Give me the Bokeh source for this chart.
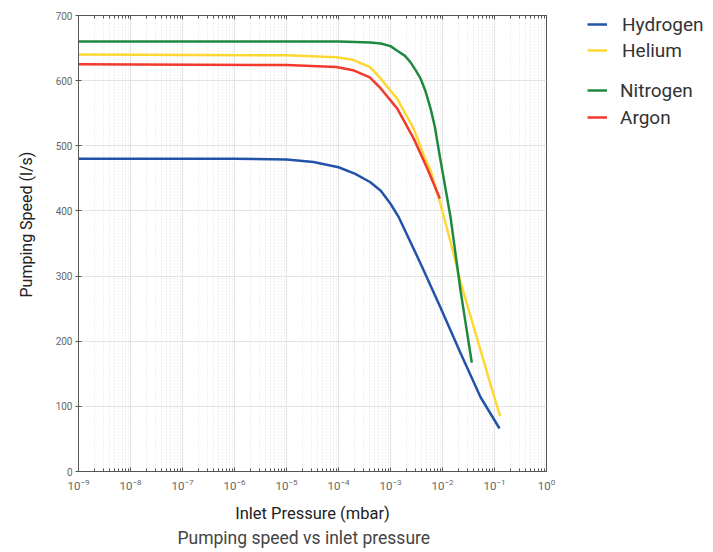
from bokeh.plotting import figure
from bokeh.models import LogAxis, Legend, LegendItem, FixedTicker, Title
from bokeh.layouts import row
from bokeh.embed import file_html
from bokeh.resources import INLINE

# Data (pressure in mbar, speed in l/s)
h2_p = [1e-9, 1e-6, 1e-5, 3.3e-5, 1e-4, 2.1e-4, 4.1e-4, 6.5e-4, 1e-3, 1.45e-3, 3.8e-3, 9.1e-3, 2.24e-2, 5.4e-2, 0.125]
h2_s = [480, 480, 479, 475, 467, 457, 444, 431, 411, 390, 319, 252, 181, 114, 66]

he_p = [1e-9, 1e-5, 9.1e-5, 1.9e-4, 4.0e-4, 6.5e-4, 1.35e-3, 2.8e-3, 4.4e-3, 5.9e-3, 9.1e-3, 1.4e-2, 2.24e-2, 3.5e-2, 5.4e-2, 8.3e-2, 0.128]
he_s = [640, 639, 636, 632, 621, 603, 572, 526, 485, 462, 411, 355, 290, 237, 186, 135, 85]

n2_p = [1e-9, 1e-4, 2.1e-4, 4.1e-4, 6.5e-4, 1e-3, 1.35e-3, 1.9e-3, 2.43e-3, 3.0e-3, 3.8e-3, 4.7e-3, 5.9e-3, 7.1e-3, 8.7e-3, 1.43e-2, 2.22e-2, 3.66e-2]
n2_s = [660, 660, 659.5, 658.5, 657, 653, 646, 638, 628, 617, 603, 584, 557, 530, 488, 390, 278, 167]

ar_p = [1e-9, 1e-5, 9.1e-5, 1.9e-4, 4.0e-4, 6.5e-4, 1.35e-3, 2.8e-3, 5.1e-3, 8.9e-3]
ar_s = [625, 624, 621, 616, 605, 588, 557, 511, 465, 419]

y_ticks = [0, 100, 200, 300, 400, 500, 600, 700]

names = ["Hydrogen", "Helium", "Nitrogen", "Argon"]
colors = ["#2353a8", "#fdd835", "#1f8a3f", "#f2392c"]
series = [(h2_p, h2_s), (he_p, he_s), (n2_p, n2_s), (ar_p, ar_s)]

FONT = "Roboto"

p = figure(width=560, height=552, x_axis_type="log", x_range=(1e-9, 1e0), y_range=(0, 700),
           output_backend="svg", toolbar_location=None,
           min_border_left=78, min_border_right=14, min_border_top=15, min_border_bottom=81)

p.outline_line_color = "#555555"
p.outline_line_width = 1

# grids
p.xgrid.grid_line_color = "#e3e3e3"
p.xgrid.minor_grid_line_color = "#e3e3e3"
p.xgrid.minor_grid_line_dash = "1 2"
p.ygrid.grid_line_color = "#e3e3e3"
p.ygrid.ticker = FixedTicker(ticks=y_ticks)

# x axis
xa = p.xaxis[0]
xa.ticker.num_minor_ticks = 10
xa.axis_label = "Inlet Pressure (mbar)"
xa.axis_label_text_font = FONT
xa.axis_label_text_font_size = "16.5px"
xa.axis_label_text_font_style = "normal"
xa.axis_label_text_color = "#222222"
xa.axis_label_standoff = 11
xa.major_label_text_font = FONT
xa.major_label_text_font_size = "11.5px"
xa.major_label_text_color = "#666666"
xa.major_label_standoff = 7
xa.axis_line_color = "#555555"
xa.major_tick_line_color = "#555555"
xa.minor_tick_line_color = "#555555"
xa.major_tick_in = 4
xa.major_tick_out = 0
xa.minor_tick_in = 3
xa.minor_tick_out = 0

# y axis
ya = p.yaxis[0]
ya.ticker = FixedTicker(ticks=y_ticks)
ya.major_label_text_font = FONT
ya.major_label_text_font_size = "10px"
ya.major_label_text_color = "#666666"
ya.major_label_standoff = 3
ya.axis_line_color = "#555555"
ya.major_tick_line_color = "#555555"
ya.major_tick_in = 3
ya.major_tick_out = 3
ya.minor_tick_line_color = None

# mirrored top axis with inward ticks
top = LogAxis()
top.ticker.num_minor_ticks = 10
top.major_label_text_font_size = "0px"
top.major_label_text_alpha = 0
top.major_label_standoff = 0
top.axis_line_color = "#555555"
top.major_tick_line_color = "#555555"
top.minor_tick_line_color = "#555555"
top.major_tick_in = 4
top.major_tick_out = 0
top.minor_tick_in = 3
top.minor_tick_out = 0
p.add_layout(top, "above")

ylab = Title(text="Pumping Speed (l/s)", align="left", offset=174, standoff=30, vertical_align="top",
             text_font=FONT, text_font_size="16px", text_font_style="normal", text_color="#222222")
p.add_layout(ylab, "left")
ttl = Title(text="Pumping speed vs inlet pressure", align="left", offset=99, standoff=0,
            text_font=FONT, text_font_size="17.5px", text_font_style="normal", text_color="#444444")
p.add_layout(ttl, "below")

for (px, sy), c in zip(series, colors):
    p.line(px, sy, line_color=c, line_width=2.5)

# legend panel (its own lines fall outside its view; only the legend shows)
q = figure(width=153, height=552, x_range=(0, 1), y_range=(0, 1),
           x_axis_location=None, y_axis_location=None,
           output_backend="svg", toolbar_location=None,
           min_border_left=0, min_border_right=0, min_border_top=0, min_border_bottom=81)
q.outline_line_color = None
q.grid.visible = False
legend_lines = [q.line(px, sy, line_color=c, line_width=2.5) for (px, sy), c in zip(series, colors)]

centers = [24, 50, 90, 117]
standoffs = [15, 15, 13, 13]
for i in range(4):
    lg = Legend(items=[LegendItem(label=names[i], renderers=[legend_lines[i]])],
                location=(27, 459 - centers[i]), orientation="vertical")
    lg.label_text_font = FONT
    lg.label_text_font_size = "19px"
    lg.label_text_color = "#333333"
    lg.glyph_width = 20
    lg.glyph_height = 24
    lg.label_height = 24
    lg.label_standoff = standoffs[i]
    lg.spacing = 0
    lg.padding = 0
    lg.margin = 0
    lg.border_line_color = None
    lg.background_fill_alpha = 0
    q.add_layout(lg)

layout = row(p, q)
open("out.html", "w").write(file_html(layout, INLINE))
